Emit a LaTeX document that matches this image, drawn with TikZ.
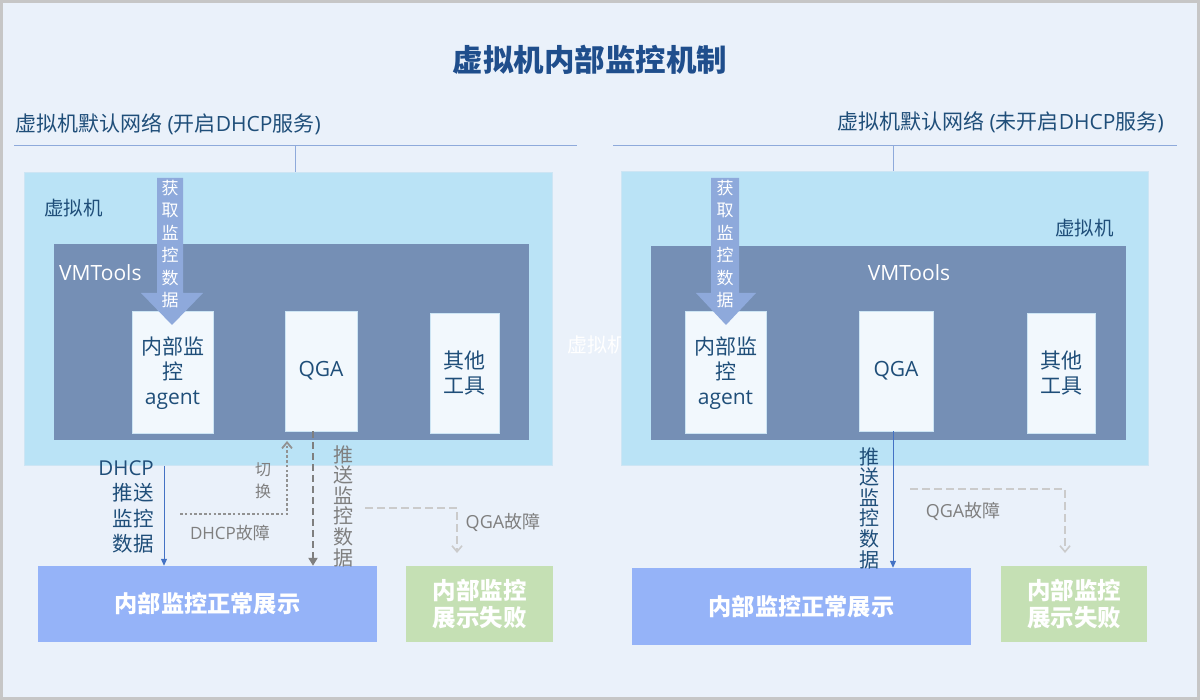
\documentclass[tikz,border=0pt]{standalone}
\usepackage{fontspec}
\setmainfont{Noto Sans CJK SC}
\newfontfamily\lat{Open Sans}
\usetikzlibrary{arrows.meta}
\definecolor{bgC}{HTML}{EAF1FA}
\definecolor{frameC}{HTML}{C6C6C6}
\definecolor{titleC}{HTML}{1F4E8C}
\definecolor{darkC}{HTML}{1F4E79}
\definecolor{netC}{HTML}{8EAADB}
\definecolor{vmF}{HTML}{BAE3F6}
\definecolor{vmB}{HTML}{CDE5F4}
\definecolor{toolF}{HTML}{758FB5}
\definecolor{compF}{HTML}{F2F8FD}
\definecolor{fetchC}{HTML}{8EA9DB}
\definecolor{pushC}{HTML}{4472C4}
\definecolor{grayC}{HTML}{7F7F7F}
\definecolor{lgrayC}{HTML}{CBCBCB}
\definecolor{blueF}{HTML}{95B3F8}
\definecolor{greenF}{HTML}{C5E0B4}
\tikzset{
  vmbox/.style={draw=vmB, fill=vmF, line width=1pt, minimum width=#1},
  toolbox/.style={fill=toolF, draw=none},
  compbox/.style={fill=compF, draw=vmB, line width=0.6pt},
  resbox/.style={draw=none, text=white, font=\fontsize{23.2}{27}\selectfont\bfseries, align=center},
  lbl/.style={inner sep=0pt, align=center},
  comptext/.style={inner sep=0pt, align=center, text=darkC, font=\fontsize{21}{25}\selectfont},
  hdr/.style={inner sep=0pt, text=darkC, font=\fontsize{21}{24}\selectfont},
  netline/.style={draw=netC, line width=1pt},
  pusharrow/.style={draw=pushC, line width=1pt, -{Triangle[length=7pt,width=6pt]}},
  qgadash/.style={draw=grayC, line width=2.6pt, dash pattern=on 7pt off 4pt, -{Triangle[length=8pt,width=9pt]}},
  dhcpdot/.style={draw=grayC!85, line width=2.6pt, dash pattern=on 2.6pt off 2.2pt, -{Straight Barb[length=6pt,width=10pt,line width=1.8pt]}},
  faildash/.style={draw=lgrayC, line width=2.2pt, dash pattern=on 8pt off 4pt, -{Straight Barb[length=6pt,width=10pt,line width=1.6pt]}},
  fetcharrow/.style={fill=fetchC, draw=none},
  fetchtext/.style={inner sep=0pt, align=center, text=white, font=\fontsize{17}{22.4}\selectfont},
}
\begin{document}
\begin{tikzpicture}[x=1pt,y=-1pt]
\useasboundingbox (0,0) rectangle (1200,700);
\fill[bgC] (0,0) rectangle (1200,700);
\draw[frameC, line width=3pt] (1.5,1.5) rectangle (1198.5,698.5);

% title
\node[lbl, text=titleC, font=\fontsize{30.5}{35}\selectfont\bfseries] (title) at (590,60) {虚拟机内部监控机制};

% ---------- left ----------
\node[hdr, anchor=west] (hdrL) at (15,124) {虚拟机默认网络{\lat\ (}开启{\lat DHCP}服务{\lat )}};
\coordinate (netL1) at (14,146);
\coordinate (netL2) at (577,146);
\coordinate (netLc) at (295,146);
\draw[netline] (netL1) -- (netL2);

\node[vmbox=528pt, minimum height=293pt, inner sep=0pt] (vmL) at (288,319.5) {};
\draw[netline, line width=0.8pt] (netLc) -- (netLc |- vmL.north);
\node[lbl, anchor=west, text=darkC, font=\fontsize{19.5}{23}\selectfont] (vmLlbl) at (44,208) {虚拟机};
\node[toolbox, minimum width=475pt, minimum height=196pt, inner sep=0pt] (toolL) at (291.5,342) {};
\node[lbl, anchor=west, text=white, font=\fontsize{21}{24}\selectfont\lat] (toolLlbl) at (59,273) {VMTools};
\node[compbox, minimum width=81pt, minimum height=122pt, inner sep=0pt] (agentL) at (172.5,372) {};
\node[comptext] (agentLt) at (172.5,373) {内部监\\控\\{\lat agent}};
\node[compbox, minimum width=72pt, minimum height=120pt, inner sep=0pt] (qgaL) at (321,371) {};
\node[comptext, font=\fontsize{21}{25}\selectfont\lat] (qgaLt) at (321,371) {QGA};
\node[compbox, minimum width=69pt, minimum height=120pt, inner sep=0pt] (otherL) at (464.5,373) {};
\node[comptext] (otherLt) at (464.5,373) {其他\\工具};

\fill[fetcharrow] (157,178) -- (183,178) -- (183,293) -- (203,293) -- (172,325) -- (141,293) -- (157,293) -- cycle;
\node[fetchtext] (fetchLt) at (170,244) {获\\取\\监\\控\\数\\据};

\node[resbox, minimum width=339pt, minimum height=76pt, fill=blueF] (blueL) at (207.5,604) {内部监控正常展示};
\node[resbox, minimum width=147pt, minimum height=76pt, fill=greenF, font=\fontsize{23.5}{27}\selectfont\bfseries] (greenL) at (479.5,604) {内部监控\\展示失败};

\coordinate (dhcpS) at (164,466);
\draw[pusharrow] (dhcpS) -- (dhcpS |- blueL.north);
\node[lbl, anchor=north east, text=darkC, font=\fontsize{20.5}{25.5}\selectfont, align=right] (dhcpT) at (154,460) {{\lat DHCP}\\推送\\监控\\数据};

\coordinate (dfS) at (180,514);
\coordinate (dfE) at (287,441);
\draw[dhcpdot] (dfS) -| (dfE);
\node[lbl, text=grayC, font=\fontsize{16}{22}\selectfont] (swT) at (263,481) {切\\换};
\node[lbl, text=grayC, font=\fontsize{17}{20}\selectfont] (dfT) at (230,533) {{\lat DHCP}故障};

\draw[qgadash] ([xshift=-8pt]qgaL.south) -- ([xshift=-8pt]qgaL.south |- blueL.north);
\node[lbl, text=grayC, font=\fontsize{20}{20.6}\selectfont] (pushLt) at (343,506) {推\\送\\监\\控\\数\\据};

\coordinate (qfLS) at (365,508);
\coordinate (qfLE) at (457,553);
\draw[faildash] (qfLS) -| (qfLE);
\node[lbl, text=grayC, font=\fontsize{18}{20}\selectfont] (qfLt) at (503,522) {{\lat QGA}故障};

% middle ghost label
\node[lbl, text=white, font=\fontsize{20}{24}\selectfont] (midT) at (597,345) {虚拟机};

% ---------- right ----------
\node[hdr, anchor=east] (hdrR) at (1164,122) {虚拟机默认网络{\lat\ (}未开启{\lat DHCP}服务{\lat )}};
\coordinate (netR1) at (613,146);
\coordinate (netR2) at (1177,146);
\coordinate (netRc) at (893,146);
\draw[netline] (netR1) -- (netR2);

\node[vmbox=527pt, minimum height=294pt, inner sep=0pt] (vmR) at (884.5,319) {};
\draw[netline, line width=0.8pt] (netRc) -- (netRc |- vmR.north);
\node[lbl, anchor=west, text=darkC, font=\fontsize{19.5}{23}\selectfont] (vmRlbl) at (1055,228) {虚拟机};
\node[toolbox, minimum width=475pt, minimum height=194pt, inner sep=0pt] (toolR) at (888.5,343) {};
\node[lbl, text=white, font=\fontsize{21}{24}\selectfont\lat] (toolRlbl) at (909,273) {VMTools};
\node[compbox, minimum width=81pt, minimum height=122pt, inner sep=0pt] (agentR) at (725.5,372) {};
\node[comptext] (agentRt) at (725.5,373) {内部监\\控\\{\lat agent}};
\node[compbox, minimum width=74pt, minimum height=120pt, inner sep=0pt] (qgaR) at (896,371) {};
\node[comptext, font=\fontsize{21}{25}\selectfont\lat] (qgaRt) at (896,371) {QGA};
\node[compbox, minimum width=68pt, minimum height=120pt, inner sep=0pt] (otherR) at (1061,373) {};
\node[comptext] (otherRt) at (1061,373) {其他\\工具};

\fill[fetcharrow] (711,178) -- (739,178) -- (739,293) -- (756,293) -- (726,325) -- (696,293) -- (711,293) -- cycle;
\node[fetchtext] (fetchRt) at (725,244) {获\\取\\监\\控\\数\\据};

\node[resbox, minimum width=339pt, minimum height=77pt, fill=blueF] (blueR) at (801.5,606.5) {内部监控正常展示};
\node[resbox, minimum width=146pt, minimum height=76pt, fill=greenF, font=\fontsize{23.5}{27}\selectfont\bfseries] (greenR) at (1074,604) {内部监控\\展示失败};

\draw[pusharrow] ([xshift=-3pt]qgaR.south) -- ([xshift=-3pt]qgaR.south |- blueR.north);
\node[lbl, text=darkC, font=\fontsize{20}{20.6}\selectfont] (pushRt) at (869,508) {推\\送\\监\\控\\数\\据};

\coordinate (qfRS) at (910,489);
\coordinate (qfRE) at (1065,553);
\draw[faildash] (qfRS) -| (qfRE);
\node[lbl, text=grayC, font=\fontsize{18}{20}\selectfont] (qfRt) at (963,511) {{\lat QGA}故障};
\end{tikzpicture}
\end{document}
